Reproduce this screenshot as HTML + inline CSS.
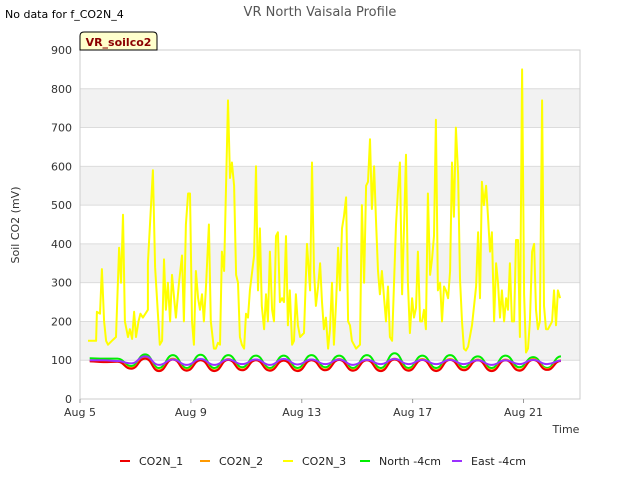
<!DOCTYPE html>
<html><head><meta charset="utf-8"><style>
body{margin:0;background:#fff;font-family:"Liberation Sans","DejaVu Sans",sans-serif}
svg text{font-family:"DejaVu Sans","Liberation Sans",sans-serif}
</style></head><body>
<svg id="c" width="640" height="480" xmlns="http://www.w3.org/2000/svg">
<text x="320" y="16" text-anchor="middle" font-size="13" fill="#555">VR North Vaisala Profile</text>
<text x="5" y="18" font-size="11" fill="#000">No data for f_CO2N_4</text>
<g id="plot"></g>
<text x="19" y="225" font-size="11" fill="#333" text-anchor="middle" transform="rotate(-90 19 225)">Soil CO2 (mV)</text>
<text x="566" y="433" font-size="11" fill="#333" text-anchor="middle">Time</text>
<g>
<path d="M80,50 L80,36 Q80,32 84,32 L153,32 Q157,32 157,36 L157,50 Z" fill="#ffffcc" stroke="#000" stroke-width="1"/>
<text x="118.5" y="46" font-size="11" font-weight="bold" fill="#8b0000" text-anchor="middle">VR_soilco2</text>
</g>
<g id="legend"></g>
</svg>
<script>
const yTicks=[0,100,200,300,400,500,600,700,800,900];
const xTickDays=[0,4,8,12,16];
const xTickLabels=["Aug 5","Aug 9","Aug 13","Aug 17","Aug 21"];
const co2n3Days=[0.29,0.58,0.61,0.72,0.79,0.87,0.94,1.01,1.15,1.30,1.41,1.48,1.55,1.62,1.73,1.80,1.88,1.95,2.02,2.11,2.18,2.27,2.45,2.45,2.63,2.71,2.81,2.88,2.96,3.03,3.10,3.17,3.25,3.32,3.46,3.57,3.68,3.75,3.82,3.90,3.97,4.04,4.11,4.18,4.26,4.33,4.40,4.47,4.54,4.65,4.72,4.83,4.90,4.98,5.05,5.12,5.20,5.34,5.41,5.48,5.56,5.63,5.70,5.77,5.84,5.92,5.99,6.06,6.13,6.28,6.35,6.42,6.49,6.56,6.64,6.71,6.78,6.85,6.93,7.00,7.07,7.14,7.21,7.29,7.36,7.43,7.50,7.57,7.65,7.72,7.79,7.86,7.94,8.08,8.19,8.30,8.37,8.44,8.51,8.59,8.66,8.73,8.80,8.87,8.95,9.02,9.09,9.16,9.24,9.31,9.38,9.45,9.52,9.60,9.67,9.74,9.81,9.96,10.10,10.17,10.25,10.32,10.39,10.46,10.53,10.61,10.68,10.75,10.82,10.89,10.97,11.04,11.11,11.18,11.26,11.40,11.47,11.54,11.62,11.69,11.76,11.83,11.90,11.98,12.05,12.12,12.19,12.27,12.34,12.41,12.48,12.55,12.63,12.70,12.77,12.84,12.91,12.99,13.06,13.13,13.20,13.28,13.35,13.42,13.49,13.56,13.64,13.71,13.78,13.85,13.92,14.00,14.14,14.29,14.36,14.43,14.50,14.57,14.65,14.72,14.79,14.86,14.94,15.01,15.08,15.15,15.22,15.30,15.37,15.44,15.51,15.58,15.66,15.73,15.80,15.87,15.95,16.02,16.09,16.16,16.23,16.31,16.38,16.45,16.52,16.59,16.67,16.74,16.81,16.88,16.96,17.03,17.10,17.17,17.24,17.32,17.46,17.60,17.68,17.75,17.82,17.89,17.97,18.04,18.11,18.18];
const co2n3Vals=[150,150,225,220,335,200,150,140,150,160,390,300,475,200,160,180,155,225,160,200,220,210,230,350,590,340,220,140,150,360,230,300,200,320,210,300,370,200,450,530,530,200,140,330,260,230,270,200,280,450,200,130,130,145,140,380,330,770,570,610,550,320,300,160,140,130,220,210,280,370,600,280,440,240,180,270,200,380,230,200,420,430,250,260,250,420,190,280,140,150,270,190,160,170,400,280,610,330,240,290,350,250,180,210,130,180,300,140,250,390,280,440,470,520,200,190,150,130,140,500,300,550,560,670,490,600,460,330,270,330,260,200,290,160,150,450,535,610,270,440,630,300,170,260,210,235,380,200,200,230,180,530,320,360,420,720,280,300,200,290,280,260,330,610,470,700,580,310,200,130,125,135,190,290,430,260,560,500,550,470,380,430,200,350,300,210,280,200,260,230,350,200,200,410,410,160,850,270,120,130,200,380,400,230,180,200,770,240,180,180,190,200,280,190,280,260];
const cycleStart=0.35;
const co2n1Vals=[97,95,96,78,104,72,102,73,100,72,101,74,100,73,99,72,100,74,101,73,100,72,102,73,101,72,101,74,100,72,100,73,101,75,98];
const co2n2Vals=[99,97,98,80,106,74,104,75,102,74,103,76,102,75,101,74,102,76,103,75,102,74,104,75,103,74,103,76,102,74,102,75,103,77,100];
const northVals=[105,104,104,85,115,80,113,80,114,80,113,82,112,80,112,80,113,82,112,80,113,80,118,80,112,80,113,82,110,80,112,82,108,80,110];
const eastVals=[100,100,98,92,110,88,102,88,103,88,102,90,102,88,103,89,102,90,102,88,101,90,103,90,101,90,101,90,100,88,100,90,101,90,99];

const L=80,R=580,T=50,B=399,DAYPX=27.72;
const xs=d=>L+d*DAYPX, ys=v=>B-(v/900)*(B-T);
const NS="http://www.w3.org/2000/svg";
const plot=document.getElementById('plot');
function mk(tag,attrs,parent){const e=document.createElementNS(NS,tag);for(const k in attrs)e.setAttribute(k,attrs[k]);(parent||plot).appendChild(e);return e;}
for(let i=0;i<yTicks.length-1;i++){
  if(i%2===1){const b=mk('rect',{x:L,y:ys(yTicks[i+1]),width:R-L,height:ys(yTicks[i])-ys(yTicks[i+1]),fill:'#f2f2f2'});
  
  }
}
yTicks.forEach(v=>{
  const g=mk('line',{x1:L,x2:R,y1:ys(v),y2:ys(v),stroke:'#dcdcdc','stroke-width':1});
  
  
  const t=mk('text',{x:L-8,y:ys(v)+4,'font-size':11,fill:'#333','text-anchor':'end'});
  t.textContent=v;
  
  
});
const frame=mk('rect',{x:L,y:T,width:R-L,height:B-T,fill:'none',stroke:'#cccccc'});


xTickDays.forEach((d,i)=>{
  const tk=mk('line',{x1:xs(d),x2:xs(d),y1:B,y2:B+4,stroke:'#999'});
  
  
  const t=mk('text',{x:xs(d),y:B+17,'font-size':11,fill:'#333','text-anchor':'middle'});
  t.textContent=xTickLabels[i];
  
  
});
function drawLine(days,vals,color,name,w){
  const d=days.map((dd,i)=>(i?'L':'M')+xs(dd).toFixed(1)+','+ys(vals[i]).toFixed(1)).join(' ');
  const p=mk('path',{d:d,fill:'none',stroke:color,'stroke-width':w,'stroke-linejoin':'round'});
  
  
}
function cycleDays(vals){return vals.map((v,i)=>cycleStart+i*0.5);}
function drawSmooth(vals,color,name){
  const days=cycleDays(vals);
  let d='M'+xs(days[0])+','+ys(vals[0]);
  for(let i=1;i<vals.length;i++){const x0=xs(days[i-1]),x1=xs(days[i]),mx=(x0+x1)/2;
    d+=` C${mx},${ys(vals[i-1])} ${mx},${ys(vals[i])} ${x1},${ys(vals[i])}`;}
  const p=mk('path',{d:d,fill:'none',stroke:color,'stroke-width':2});
  
  
}
drawLine(co2n3Days,co2n3Vals,'#ffff00','series-co2n-3',2);
drawSmooth(northVals,'#00ee00','series-north-4cm');
drawSmooth(co2n2Vals,'#ff9900','series-co2n-2');
drawSmooth(co2n1Vals,'#ee0000','series-co2n-1');
drawSmooth(eastVals,'#9b30ff','series-east-4cm');
const legend=document.getElementById('legend');
const leg=[["CO2N_1","#ee0000",120],["CO2N_2","#ff9900",200],["CO2N_3","#ffff00",283],["North -4cm","#00ee00",360],["East -4cm","#9b30ff",452]];
leg.forEach(([n,c,x])=>{
  const g=mk('g',{},legend);
  
  
  mk('line',{x1:x,x2:x+10,y1:461,y2:461,stroke:c,'stroke-width':2},g);
  const t=mk('text',{x:x+19,y:465,'font-size':11,fill:'#222'},g);t.textContent=n;
});
</script>
</body></html>
